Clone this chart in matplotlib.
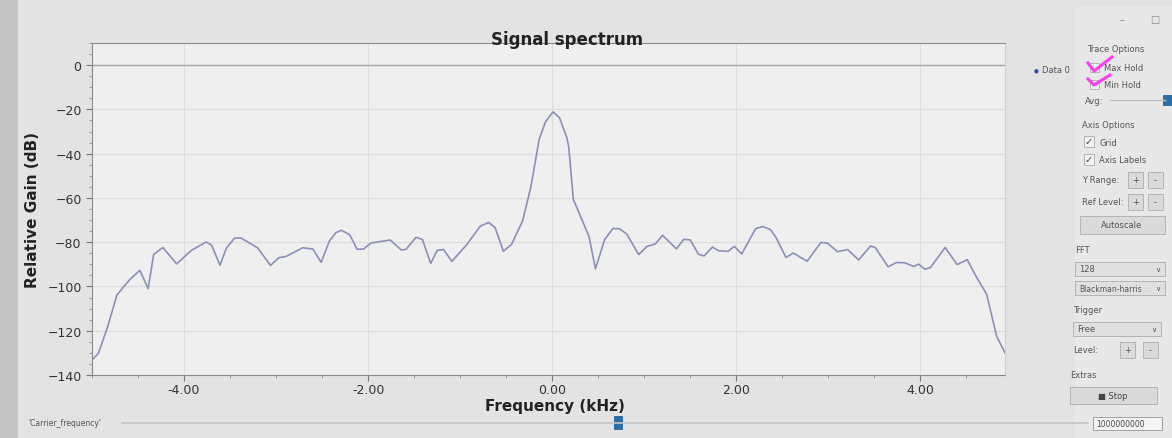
import numpy as np
import matplotlib
matplotlib.use("Agg")
import matplotlib.pyplot as plt
from matplotlib.patches import Rectangle
from matplotlib.ticker import MultipleLocator, FormatStrFormatter

# ============================================================
# DATA (read off the photo of the GNU Radio frequency sink)
# ============================================================
freq_khz = [-5.00, -4.93, -4.83, -4.73, -4.59, -4.48, -4.39, -4.33, -4.23, -4.08,
            -3.92, -3.76, -3.70, -3.61, -3.54, -3.45, -3.38, -3.20, -3.06, -2.97,
            -2.89, -2.71, -2.60, -2.51, -2.42, -2.35, -2.29, -2.20, -2.12, -2.05,
            -1.97, -1.76, -1.64, -1.59, -1.48, -1.41, -1.32, -1.25, -1.18, -1.09,
            -0.93, -0.78, -0.69, -0.62, -0.53, -0.44, -0.32, -0.23, -0.14, -0.07,
            0.01, 0.08, 0.16, 0.18, 0.23, 0.40, 0.47, 0.57, 0.66, 0.73,
            0.81, 0.94, 1.03, 1.12, 1.20, 1.35, 1.43, 1.50, 1.59, 1.65,
            1.74, 1.81, 1.91, 1.98, 2.06, 2.21, 2.29, 2.37, 2.43, 2.54,
            2.62, 2.77, 2.92, 2.99, 3.10, 3.21, 3.33, 3.46, 3.51, 3.65,
            3.74, 3.83, 3.93, 3.98, 4.05, 4.11, 4.27, 4.40, 4.51, 4.60,
            4.72, 4.83, 4.92]
gain_db = [-133.2, -130.2, -118.2, -103.9, -96.9, -92.7, -101.0, -85.5, -82.4, -89.8,
           -83.7, -79.9, -81.4, -90.4, -82.7, -78.1, -78.1, -82.6, -90.5, -87.0,
           -86.4, -82.5, -83.1, -89.1, -79.4, -75.7, -74.6, -76.6, -83.2, -83.1,
           -80.4, -79.0, -83.5, -83.3, -77.8, -78.8, -89.6, -83.7, -83.3, -88.7,
           -81.2, -72.7, -71.1, -73.4, -84.1, -80.9, -70.2, -54.7, -33.2, -25.4,
           -21.1, -23.8, -32.9, -37.0, -60.7, -77.4, -92.0, -78.8, -73.8, -73.9,
           -76.3, -85.6, -81.9, -80.8, -76.9, -83.0, -78.7, -79.0, -85.5, -86.2,
           -82.2, -83.9, -84.1, -81.9, -85.3, -73.9, -72.9, -74.3, -77.7, -86.9,
           -84.9, -88.6, -80.1, -80.4, -84.3, -83.3, -88.0, -81.7, -82.4, -91.1,
           -89.2, -89.3, -91.0, -89.9, -92.2, -91.4, -82.4, -90.1, -87.9, -95.0,
           -103.5, -122.6, -130.0]

x_ticks = [-4, -2, 0, 2, 4]
y_ticks = [-140, -120, -100, -80, -60, -40, -20, 0]

W, H = 1172, 439


def fx(x):
    return x / W


def fy(y):
    return 1 - y / H


# ============================================================
# FIGURE
# ============================================================
fig = plt.figure(figsize=(W / 100, H / 100), dpi=100, facecolor="#e3e3e3")

# darker photo edge on the left
fig.patches.append(Rectangle((0, 0), fx(18), 1, transform=fig.transFigure,
                             facecolor="#c4c4c4", edgecolor="none", zorder=0))

ax = fig.add_axes([fx(92), fy(376), fx(1005) - fx(92), fy(44) - fy(376)])
ax.set_facecolor("#efefef")
ax.plot(freq_khz, gain_db, color="#8c90b8", linewidth=1.2)
ax.axhline(0, color="#a8a8a8", linewidth=1.0)

ax.set_xlim(-5.0, 4.92)
ax.set_ylim(-140, 10)
ax.set_xticks(x_ticks)
ax.set_yticks(y_ticks)
ax.xaxis.set_major_formatter(FormatStrFormatter("%.2f"))
ax.xaxis.set_minor_locator(MultipleLocator(0.5))
ax.yaxis.set_minor_locator(MultipleLocator(5))
ax.tick_params(axis="both", which="major", direction="out", length=4,
               color="#7a7a7a", labelsize=9, labelcolor="#333333")
ax.tick_params(axis="x", which="major", pad=2)
ax.tick_params(axis="both", which="minor", direction="out", length=2.5, color="#8a8a8a")
ax.grid(True, which="major", color="#dcdcdc", linewidth=0.8)
for side in ["left", "bottom", "top", "right"]:
    ax.spines[side].set_color("#8a8a8a")
ax.spines["right"].set_color("#d0d0d0")

fig.text(fx(567), fy(40), "Signal spectrum", ha="center", va="center",
         fontsize=12, fontweight="bold", color="#222222")
fig.text(fx(555), fy(407), "Frequency (kHz)", ha="center", va="center",
         fontsize=11, fontweight="bold", color="#222222")
fig.text(fx(33), fy(210), "Relative Gain (dB)", ha="center", va="center",
         rotation=90, fontsize=11, fontweight="bold", color="#222222")

# legend entry outside the canvas
fig.text(fx(1036), fy(71), "\u25cf", color="#3050b0", fontsize=4, ha="center", va="center")
fig.text(fx(1042), fy(71), "Data 0", color="#555555", fontsize=6, ha="left", va="center")

# ============================================================
# RIGHT CONTROL PANEL
# ============================================================
fig.patches.append(Rectangle((fx(1075), 0), fx(1172) - fx(1075), fy(8), transform=fig.transFigure,
                             facecolor="#e8e8e8", edgecolor="none", zorder=0))

small = dict(fontsize=6, color="#555555", va="center", ha="left")


def box(x0, y0, x1, y1, fc="#dadada", ec="#b4b4b4"):
    fig.patches.append(Rectangle((fx(x0), fy(y1)), fx(x1) - fx(x0), fy(y0) - fy(y1),
                                 transform=fig.transFigure, facecolor=fc, edgecolor=ec,
                                 linewidth=0.7))


fig.text(fx(1087), fy(50), "Trace Options", **small)
box(1090, 64, 1099, 73, fc="#f2f2f2")
fig.text(fx(1104), fy(69), "Max Hold", **small)
box(1090, 81, 1099, 90, fc="#f2f2f2")
fig.text(fx(1104), fy(86), "Min Hold", **small)
# hand drawn magenta ticks over the two hold boxes
fig.lines.append(plt.Line2D([fx(1088), fx(1094), fx(1112)], [fy(64), fy(72), fy(58)],
                            transform=fig.transFigure, color="#ff3cf0", linewidth=2.2))
fig.lines.append(plt.Line2D([fx(1088), fx(1094), fx(1110)], [fy(80), fy(86), fy(76)],
                            transform=fig.transFigure, color="#ff3cf0", linewidth=2.2))
fig.text(fx(1085), fy(101), "Avg:", **small)
fig.lines.append(plt.Line2D([fx(1110), fx(1165)], [fy(101), fy(101)],
                            transform=fig.transFigure, color="#c0c0c0", linewidth=1))
box(1163, 96, 1172, 106, fc="#2e6ea6", ec="#2e6ea6")

fig.text(fx(1082), fy(126), "Axis Options", **small)
box(1084, 137, 1094, 148, fc="#f2f2f2")
fig.text(fx(1089), fy(142), "\u2713", fontsize=7, color="#444444", ha="center", va="center")
fig.text(fx(1099), fy(143), "Grid", **small)
box(1084, 155, 1094, 166, fc="#f2f2f2")
fig.text(fx(1089), fy(160), "\u2713", fontsize=7, color="#444444", ha="center", va="center")
fig.text(fx(1099), fy(161), "Axis Labels", **small)

for label, yy in [("Y Range:", 181), ("Ref Level:", 203)]:
    fig.text(fx(1082), fy(yy), label, **small)
    box(1128, yy - 8, 1143, yy + 8)
    fig.text(fx(1135.5), fy(yy), "+", fontsize=6, color="#555555", ha="center", va="center")
    box(1148, yy - 8, 1163, yy + 8)
    fig.text(fx(1155.5), fy(yy), "-", fontsize=6, color="#555555", ha="center", va="center")

box(1080, 217, 1165, 235)
fig.text(fx(1122), fy(226), "Autoscale", fontsize=6, color="#555555", ha="center", va="center")

fig.text(fx(1075), fy(251), "FFT", **small)
box(1075, 263, 1165, 277, fc="#e0e0e0")
fig.text(fx(1079), fy(270), "128", **small)
fig.text(fx(1158), fy(270), "\u2228", fontsize=5, color="#555555", ha="center", va="center")
box(1075, 282, 1165, 296, fc="#e0e0e0")
fig.text(fx(1079), fy(289), "Blackman-harris", fontsize=5.5, color="#555555", va="center", ha="left")
fig.text(fx(1158), fy(289), "\u2228", fontsize=5, color="#555555", ha="center", va="center")

fig.text(fx(1073), fy(311), "Trigger", **small)
box(1073, 323, 1161, 337, fc="#e0e0e0")
fig.text(fx(1077), fy(330), "Free", **small)
fig.text(fx(1154), fy(330), "\u2228", fontsize=5, color="#555555", ha="center", va="center")
fig.text(fx(1073), fy(351), "Level:", **small)
box(1120, 343, 1135, 359)
fig.text(fx(1127.5), fy(351), "+", fontsize=6, color="#555555", ha="center", va="center")
box(1143, 343, 1158, 359)
fig.text(fx(1150.5), fy(351), "-", fontsize=6, color="#555555", ha="center", va="center")

fig.text(fx(1070), fy(376), "Extras", **small)
box(1070, 388, 1157, 405)
fig.text(fx(1113), fy(396.5), "\u25a0 Stop", fontsize=6, color="#444444", ha="center", va="center")

# ============================================================
# BOTTOM SLIDER ROW
# ============================================================
fig.text(fx(28), fy(424), "'Carrier_frequency'", fontsize=5.5, color="#555555", ha="left", va="center")
fig.lines.append(plt.Line2D([fx(122), fx(1088)], [fy(424), fy(424)],
                            transform=fig.transFigure, color="#c4c4c4", linewidth=1.2))
box(614, 417, 622, 430, fc="#2e6ea6", ec="#2e6ea6")
box(1093, 418, 1162, 431, fc="#f4f4f4", ec="#a0a0a0")
fig.text(fx(1096), fy(424.5), "1000000000", fontsize=5.5, color="#444444", ha="left", va="center")

# window buttons in the top right corner
fig.text(fx(1155), fy(20), "\u25a1", fontsize=7, color="#888888", ha="center", va="center")
fig.text(fx(1122), fy(20), "\u2013", fontsize=7, color="#888888", ha="center", va="center")

fig.savefig("out.png", dpi=100, facecolor=fig.get_facecolor())
